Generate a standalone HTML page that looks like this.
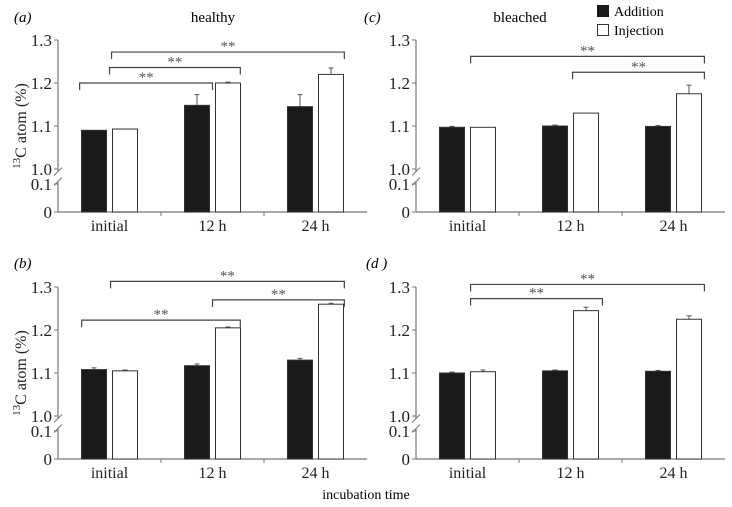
<!DOCTYPE html>
<html><head><meta charset="utf-8">
<style>
html,body{margin:0;padding:0;background:#fff;}
svg{display:block;font-family:"Liberation Serif",serif;}
</style></head>
<body>
<svg id="fig" width="732" height="507" viewBox="0 0 732 507">
  <text x="14" y="22" font-size="15" font-style="italic">(a)</text>
  <text x="213" y="22" font-size="15" text-anchor="middle">healthy</text>
  <text x="364" y="22" font-size="15" font-style="italic">(c)</text>
  <text x="520" y="22" font-size="15" text-anchor="middle">bleached</text>
  <text x="14" y="268" font-size="15" font-style="italic">(b)</text>
  <text x="366" y="268" font-size="15" font-style="italic">(d )</text>
  <text x="366" y="499" font-size="14" text-anchor="middle">incubation time</text>
  <g>
    <rect x="597" y="5" width="12" height="12" fill="#1a1a1a"/>
    <text x="614" y="16" font-size="14">Addition</text>
    <rect x="597.5" y="24.5" width="11" height="11" fill="#fff" stroke="#333"/>
    <text x="614" y="35" font-size="14">Injection</text>
  </g>
</svg>
<script>
const categories = ["initial", "12 h", "24 h"];
const yTicks = [1.3, 1.2, 1.1];
const addA = [1.09, 1.148, 1.145];
const addErrA = [0, 0.025, 0.028];
const injA = [1.093, 1.2, 1.22];
const injErrA = [0, 0.002, 0.015];
const addB = [1.108, 1.117, 1.13];
const addErrB = [0.004, 0.004, 0.004];
const injB = [1.105, 1.205, 1.26];
const injErrB = [0.002, 0.002, 0.002];
const addC = [1.097, 1.1, 1.099];
const addErrC = [0.002, 0.002, 0.002];
const injC = [1.097, 1.13, 1.175];
const injErrC = [0, 0, 0.02];
const addD = [1.1, 1.105, 1.104];
const addErrD = [0.002, 0.002, 0.002];
const injD = [1.103, 1.245, 1.225];
const injErrD = [0.004, 0.008, 0.008];
const bracketsA = [[0.21, 1.5, 1.2], [0.5, 1.77, 1.236], [0.52, 2.78, 1.272]];
const bracketsB = [[0.23, 1.77, 1.223], [1.5, 2.78, 1.27], [0.51, 2.78, 1.313]];
const bracketsC = [[0.53, 2.8, 1.262], [1.52, 2.8, 1.225]];
const bracketsD = [[0.53, 1.81, 1.273], [0.53, 2.8, 1.306]];

const NS = "http://www.w3.org/2000/svg";
const svg = document.getElementById("fig");
function mk(tag, attrs, parent) {
  const e = document.createElementNS(NS, tag);
  for (const k in attrs) e.setAttribute(k, attrs[k]);
  (parent || svg).appendChild(e);
  return e;
}
const AX = "#777";
function panel(id, x0, top, add, addErr, inj, injErr, brackets, showTitle) {
  const g = mk("g", {});
  
  
  const gw = 103, xEnd = x0 + gw * 3;
  const y0 = top + 0.3 * 430 + 43;
  function y(v) {
    if (v >= 1.0) return top + (1.3 - v) * 430;
    return y0 - v / 0.1 * 28;
  }
  function gx(u) { return x0 + u * gw; }
  const ya = mk("line", {x1: x0, x2: x0, y1: top, y2: y0, stroke: AX, "stroke-width": 1.2}, g);
  
  
  const xa = mk("line", {x1: x0, x2: xEnd, y1: y0, y2: y0, stroke: AX, "stroke-width": 1.2}, g);
  
  
  const yb = (y(1.0) + y(0.1)) / 2;
  mk("rect", {x: x0 - 4, y: yb - 5, width: 8, height: 10, fill: "#fff"}, g);
  mk("line", {x1: x0 - 4, y1: yb - 1, x2: x0 + 4, y2: yb - 9, stroke: AX, "stroke-width": 1}, g);
  mk("line", {x1: x0 - 4, y1: yb + 9, x2: x0 + 4, y2: yb + 1, stroke: AX, "stroke-width": 1}, g);
  const tickVals = yTicks.concat([1.0, 0.1, 0]);
  const tickLabels = ["1.3", "1.2", "1.1", "1.0", "0.1", "0"];
  tickVals.forEach((v, i) => {
    mk("line", {x1: x0 - 4, x2: x0, y1: y(v), y2: y(v), stroke: AX}, g);
    const t = mk("text", {x: x0 - 6, y: y(v) + 6, "font-size": 17, "text-anchor": "end", fill: "#222"}, g);
    t.textContent = tickLabels[i];
    
    
  });
  if (showTitle) {
    const tt = mk("text", {x: 0, y: 0, "font-size": 16, "text-anchor": "middle", fill: "#222", transform: "translate(" + (x0 - 32) + "," + (top + 86) + ") rotate(-90)"}, g);
    tt.innerHTML = '<tspan baseline-shift="super" font-size="11">13</tspan>C atom (%)';
    
    
  }
  categories.forEach((c, i) => {
    if (i > 0) mk("line", {x1: gx(i), x2: gx(i), y1: y0, y2: y0 + 4, stroke: AX}, g);
    const cx = gx(i + 0.5);
    const t = mk("text", {x: cx, y: y0 + 19, "font-size": 16, "text-anchor": "middle", fill: "#222"}, g);
    t.textContent = c;
    
    
    [[add, addErr, "#1a1a1a", -28, "addition"], [inj, injErr, "#fff", 3, "injection"]].forEach(s => {
      const v = s[0][i], e = s[1][i];
      const bx = cx + s[3];
      if (e > 0) {
        mk("line", {x1: bx + 12.5, x2: bx + 12.5, y1: y(v), y2: y(v + e), stroke: "#555"}, g);
        mk("line", {x1: bx + 10, x2: bx + 15, y1: y(v + e), y2: y(v + e), stroke: "#555"}, g);
      }
      const r = mk("rect", {x: bx, y: y(v), width: 25, height: y0 - y(v), fill: s[2], stroke: "#333", "stroke-width": 1}, g);
      
      
    });
  });
  brackets.forEach(b => {
    const x1 = gx(b[0]), x2 = gx(b[1]), yy = y(b[2]);
    const p = mk("path", {d: "M" + x1 + "," + (yy + 7) + "V" + yy + "H" + x2 + "V" + (yy + 7), fill: "none", stroke: "#444", "stroke-width": 1.2}, g);
    
    
    const t = mk("text", {x: (x1 + x2) / 2, y: yy - 1, "font-size": 15, "text-anchor": "middle", fill: "#555"}, g);
    t.textContent = "**";
    
    
  });
}
panel("a", 58, 40, addA, addErrA, injA, injErrA, bracketsA, true);
panel("b", 58, 287, addB, addErrB, injB, injErrB, bracketsB, true);
panel("c", 416, 40, addC, addErrC, injC, injErrC, bracketsC, false);
panel("d", 416, 287, addD, addErrD, injD, injErrD, bracketsD, false);
</script>
</body></html>
